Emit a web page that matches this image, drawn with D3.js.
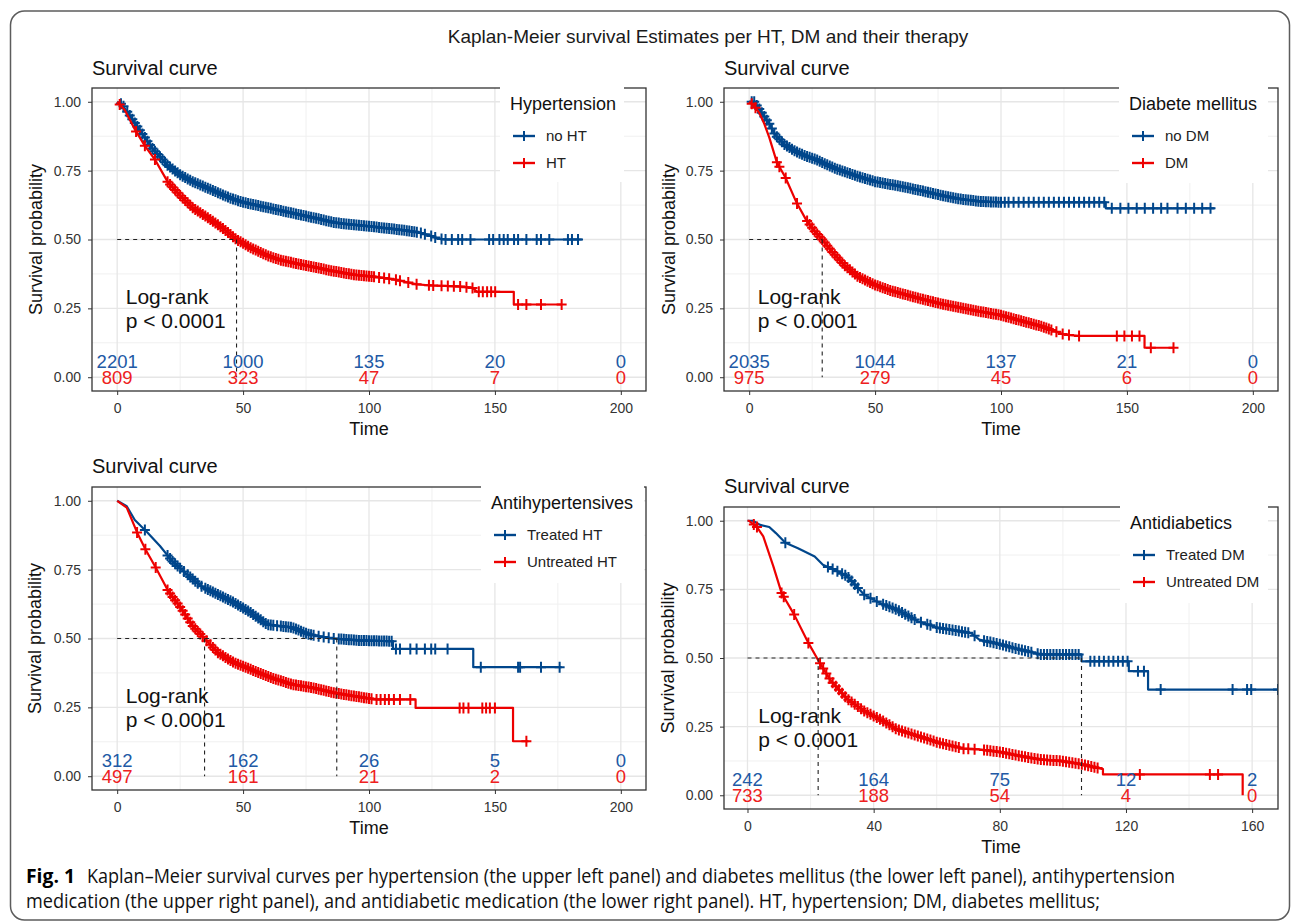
<!DOCTYPE html>
<html>
<head>
<meta charset="utf-8">
<script src="https://cdn.jsdelivr.net/npm/d3@7/dist/d3.min.js"></script>
<style>
body { margin: 0; background: #fff; }
svg text { font-family: "Liberation Sans", Arial, sans-serif; }
svg text.caption { font-family: "Open Sans", "Noto Sans", sans-serif; }
</style>
</head>
<body>
<div id="chart"></div>
<script>
// ---- titles and labels
var mainTitle = "Kaplan-Meier survival Estimates per HT, DM and their therapy";
var captionBold = "Fig. 1";
var captionLine1 = "Kaplan\u2013Meier survival curves per hypertension (the upper left panel) and diabetes mellitus (the lower left panel), antihypertension";
var captionLine2 = "medication (the upper right panel), and antidiabetic medication (the lower right panel). HT, hypertension; DM, diabetes mellitus;";

var yTicks = [0, 0.25, 0.5, 0.75, 1];
var xTicksWide = [0, 50, 100, 150, 200];
var xTicksShort = [0, 40, 80, 120, 160];

// ---- panel 1: hypertension
var htGroups = ["no HT", "HT"];
var htNoCurve = [[0,1],[2,0.99],[5,0.95],[8,0.91],[11,0.87],[14,0.83],[17,0.8],[20,0.77],[25,0.735],[30,0.71],[35,0.69],[40,0.67],[45,0.65],[50,0.635],[55,0.625],[60,0.615],[65,0.605],[70,0.595],[75,0.585],[80,0.575],[86,0.562],[92,0.555],[100,0.548],[108,0.54],[115,0.532],[120,0.525],[124,0.515],[127,0.505],[130,0.5],[184.5,0.5]];
var htYesCurve = [[0,1],[3,0.97],[7,0.9],[11,0.84],[15,0.79],[20,0.71],[25,0.66],[30,0.615],[36.7,0.575],[42,0.54],[47.4,0.5],[53,0.47],[60,0.44],[65,0.425],[70,0.415],[78,0.4],[86,0.385],[94,0.372],[102,0.365],[110,0.355],[119,0.337],[125,0.333],[135,0.33],[141,0.325],[143,0.31],[157.5,0.31],[157.5,0.264],[176.5,0.264]];
var htNoCensor = [1.5,2.5,4,5,6,7,8,9,10,11,12,13,14,15,16,17,18,19,20,21,22,23,24,25,26,27,28,29,30,31,32,33,34,35,36,37,38,39,40,41,42,43,44,45,46,47,48,49,50,51,52,53,54,55,56,57,58,59,60,61,62,63,64,65,66,67,68,69,70,71,72,73,74,75,76,77,78,79,80,81,82,83,84,85,86,87,88,89,90,91,92,93,94,95,96,97,98,99,100,101,102,103,104,105,106,107,108,109,110,111,112,113,114,115,116,117,118,119,120.6,122.2,124.7,126.3,128.8,130.4,132.9,135.4,137,140.3,147.7,149.3,151.8,153.5,155.1,157.6,159.2,162.5,166.6,168.3,171.6,179,180.6,183];
var htYesCensor = [1,7.5,11,15,20,21,22,23,24,25,26,27,28,29,30,31,32,33,34,35,36,37,38,39,40,41,42,43,44,45,46,47,48,49,50,51,52,53,54,55,56,57,58,59,60,61,62,63,64,65,66,67,68,69,70,71,72,73,74,75,76,77,78,79,80,81,82,83,84,85,86,87,88,89,90,91,92,93,94,95,96,97,98,99,100,101,102,104,106,108,110.7,112.3,115.6,118.9,123.8,125.5,128.8,131.3,133.7,136.2,138.7,141.1,143.6,145.2,146.9,148.5,150.1,159.2,162.5,168.3,176.5];
var htNoRisk = [2201, 1000, 135, 20, 0];
var htYesRisk = [809, 323, 47, 7, 0];
var htMedians = [47.4];

// ---- panel 2: diabetes mellitus
var dmGroups = ["no DM", "DM"];
var dmNoCurve = [[0,1],[2,1],[5,0.96],[8,0.92],[10.3,0.88],[14,0.845],[18.4,0.82],[22,0.805],[26.6,0.79],[30,0.775],[35,0.755],[43,0.73],[50,0.71],[59,0.695],[67,0.68],[75.5,0.662],[83.7,0.647],[92,0.638],[100,0.635],[141.6,0.635],[141.6,0.613],[184.8,0.613]];
var dmYesCurve = [[0,1],[2,0.985],[4,0.96],[6,0.92],[8,0.87],[11,0.78],[14.4,0.725],[18.8,0.634],[22.5,0.573],[26,0.53],[29,0.5],[33,0.455],[38,0.405],[43,0.367],[50,0.335],[56,0.315],[62,0.3],[68,0.285],[75.5,0.268],[85,0.25],[92,0.238],[100,0.225],[108,0.205],[116,0.185],[122,0.165],[125,0.155],[131,0.15],[157,0.15],[157,0.107],[168.5,0.107]];
var dmNoCensor = [1,2,3,4,5,6,7,8,9,10,11,12,13,14,15,16,17,18,19,20,21,22,23,24,25,26,27,28,29,30,31,32,33,34,35,36,37,38,39,40,41,42,43,44,45,46,47,48,49,50,51,52,53,54,55,56,57,58,59,60,61,62,63,64,65,66,67,68,69,70,71,72,73,74,75,76,77,78,79,80,81,82,83,84,85,86,87,88,89,90,91,92,93,94,95,96,97,98,99,100,101.5,103,105,107,109,111,113,115,117,119,121,123,125,127,129,131,133,135,137,139,141,144,147.4,150.6,153.9,157.1,160.4,163.6,166.1,170.1,173.4,176.7,179.9,183.2];
var dmYesCensor = [1,2.5,11,12,14.5,19,23,24,25,26,27,28,29,30,31,32,33,34,35,36,37,38,39,40,41,42,43,44,45,46,47,48,49,50,51,52,53,54,55,56,57,58,59,60,61,62,63,64,65,66,67,68,69,70,71,72,73,74,75,76,77,78,79,80,81,82,83,84,85,86,87,88,89,90,91,92,93,94,95,96,97,98,99,100,101,102,103,104,105,106,107,108,109,110,111,112,113,114,115,116,117,118,119,120,122,124.5,127,131,146,149,152,155,159.5,168.5];
var dmNoRisk = [2035, 1044, 137, 21, 0];
var dmYesRisk = [975, 279, 45, 6, 0];
var dmMedians = [29];

// ---- panel 3: antihypertensives
var ahGroups = ["Treated HT", "Untreated HT"];
var ahTreatedCurve = [[0,1],[3.8,0.98],[7,0.93],[12,0.885],[17,0.836],[21.9,0.78],[28.5,0.727],[33.4,0.69],[40,0.66],[46.5,0.63],[53,0.594],[59.7,0.55],[65,0.545],[69.6,0.54],[76,0.515],[82,0.505],[86,0.5],[96,0.493],[109.5,0.49],[109.5,0.462],[141.4,0.462],[141.4,0.396],[176.5,0.396]];
var ahUntreatedCurve = [[0,1],[3.8,0.975],[7.9,0.885],[11.2,0.824],[15.3,0.758],[20.2,0.673],[25.2,0.612],[30,0.545],[34.7,0.5],[40,0.448],[46.5,0.412],[53,0.388],[61,0.358],[69.6,0.333],[77.8,0.321],[86,0.303],[94,0.291],[102.5,0.279],[118.5,0.279],[118.5,0.248],[157.2,0.248],[157.2,0.127],[163.3,0.127]];
var ahTreatedCensor = [11,20,21,22,23,24,25,26.5,28,29,30,31,32,33.5,35,36,37,38,39,40,41,42,43,44,45,46,47,48,49,50,51,52,53,54,55,56,57,58,59,60,61,62,63.5,65,66,67,68,69,70,71,72,73,74,75,76,77,78,80,82,84,86,88,89,90,91,92,93,94,95,96,97,98,99,100,101,102,103,104,105,106,107,108,109,110.7,112.3,116.4,118.9,122.2,124.7,126.3,131.2,144.4,159.2,160,168.3,175.7];
var ahUntreatedCensor = [7.9,11.2,15.3,20,21,22,23,24,25,26,27,28,29,30,31,32,33,34,35.5,37,38,39,40,41,42,43,44,45,46,47,48,49,50,51,52,53,54,55,56,57,58,59,60,61,62,63,64,65,66,67,68,69,70,71,72,73,74,75,76,77,78,79,80,81,82,83,84,85,86,87,88,89,90,91,92,93,94,95,96,97,98,99,100,101,103,104.6,106.3,107.9,109.9,112.3,116.4,136,137.5,139.5,145,146.5,148,150,162.5];
var ahTreatedRisk = [312, 162, 26, 5, 0];
var ahUntreatedRisk = [497, 161, 21, 2, 0];
var ahMedians = [34.7, 87.2];

// ---- panel 4: antidiabetics
var adGroups = ["Treated DM", "Untreated DM"];
var adTreatedCurve = [[0,1],[1.7,1],[4,0.985],[6.9,0.977],[9,0.955],[12,0.92],[16,0.9],[21.3,0.87],[23.9,0.84],[27.8,0.82],[31.7,0.797],[37,0.73],[42,0.7],[47.4,0.676],[54,0.634],[60.4,0.61],[66,0.6],[71,0.59],[73.5,0.567],[80,0.55],[86.5,0.53],[93,0.513],[105.9,0.513],[105.9,0.488],[120.9,0.488],[120.9,0.452],[127,0.452],[127,0.385],[168.2,0.385]];
var adUntreatedCurve = [[0,1],[0.4,1],[3,0.977],[5,0.943],[8.2,0.834],[10.8,0.737],[14.8,0.658],[19.3,0.555],[22.6,0.488],[26.5,0.416],[31.7,0.35],[37,0.307],[42,0.277],[47.4,0.24],[54,0.216],[60.4,0.192],[68.3,0.17],[73.5,0.167],[80,0.158],[86.5,0.143],[93,0.13],[99.6,0.125],[106,0.113],[112.7,0.095],[112.7,0.076],[157,0.076],[157,0]];
var adTreatedCensor = [12,25.5,27,28.5,30,31,32,33,34,35,37,39,41,43,44,45,46,47,48,49,50,51,52,53,55,57,58,60,61,62,63,64,65,66,67,68,69,70,72,75,76,77,78,79,80,81,82,83,84,85,86,87,88,89,90,92,93,94,95,96,97,98,99,100,101,102,103,104,105,108.7,110,111.5,113,114.5,116,117.5,119,120.5,123.8,125.7,131,153.8,158.4,159.7,168.2];
var adUntreatedCensor = [2,3,10.8,11.5,14.8,19.3,23,24,25,26,27,28,29,30,31,32,33,34,35,36,37,38,39,40,41,42,43,44,45,46,47,48,49,50,51,52,53,54,55,56,57,58,59,60,61,62,63,64,65,66,67,68.5,70,72,75,76,77,78,79,80,81,82,83,84,85,86,87,88,89,90,91,92,93,94,95,96,97,98,99,100,101,102,103,104,105,106,107,108,109,110,111,124.4,146.6,149.2];
var adTreatedRisk = [242, 164, 75, 12, 2];
var adUntreatedRisk = [733, 188, 54, 4, 0];
var adMedians = [22.4, 105.9];

// ---- layout
var chart_width = 1295;
var chart_height = 923;
var blue = "#00468B", red = "#ED0000";
var blueText = "#2159A5", redText = "#EE2020";

var panels = [
    { left: 92, right: 646, top: 88, bottom: 391, xDomain: [-10, 210], xTicks: xTicksWide,
      titleY: 75, ylabX: 42, legendTitle: "Hypertension", legend: [500, 86, 124, 96],
      groups: htGroups, curves: [htNoCurve, htYesCurve], censors: [htNoCensor, htYesCensor],
      risks: [htNoRisk, htYesRisk], medians: htMedians },
    { left: 724, right: 1278, top: 88, bottom: 391, xDomain: [-10, 210], xTicks: xTicksWide,
      titleY: 75, ylabX: 675, legendTitle: "Diabete mellitus", legend: [1119, 86, 149, 97],
      groups: dmGroups, curves: [dmNoCurve, dmYesCurve], censors: [dmNoCensor, dmYesCensor],
      risks: [dmNoRisk, dmYesRisk], medians: dmMedians },
    { left: 92, right: 646, top: 487, bottom: 790, xDomain: [-10, 210], xTicks: xTicksWide,
      titleY: 473, ylabX: 41, legendTitle: "Antihypertensives", legend: [481, 485, 163, 98],
      groups: ahGroups, curves: [ahTreatedCurve, ahUntreatedCurve], censors: [ahTreatedCensor, ahUntreatedCensor],
      risks: [ahTreatedRisk, ahUntreatedRisk], medians: ahMedians },
    { left: 724, right: 1278, top: 507, bottom: 809, xDomain: [-7.45, 168.2], xTicks: xTicksShort,
      titleY: 493, ylabX: 674, legendTitle: "Antidiabetics", legend: [1120, 505, 148, 98],
      groups: adGroups, curves: [adTreatedCurve, adUntreatedCurve], censors: [adTreatedCensor, adUntreatedCensor],
      risks: [adTreatedRisk, adUntreatedRisk], medians: adMedians }
];

//Create SVG Element
var svg = d3.select("#chart")
    .append("svg")
    .attr("width", chart_width)
    .attr("height", chart_height);

// outer frame
svg.append("rect")
    .attr("x", 10.5).attr("y", 11)
    .attr("width", 1279).attr("height", 909)
    .attr("rx", 14)
    .attr("fill", "none")
    .attr("stroke", "#5c5c5c")
    .attr("stroke-width", 1.5);

svg.append("text")
    .attr("x", 708).attr("y", 43)
    .attr("text-anchor", "middle")
    .attr("font-size", 19)
    .attr("fill", "#1a1a1a")
    .text(mainTitle);

// survival value at time t along a drawn curve
function survAt(curve, t) {
    var i = d3.bisector(function(d){ return d[0]; }).right(curve, t) - 1;
    if (i < 0) return curve[0][1];
    if (i >= curve.length - 1) return curve[curve.length - 1][1];
    var a = curve[i], b = curve[i + 1];
    if (b[0] === a[0]) return b[1];
    return a[1] + (b[1] - a[1]) * (t - a[0]) / (b[0] - a[0]);
}

var cross = "M-5,0H5M0,-5.5V5.5";

panels.forEach(function(p, pi){
    var x_scale = d3.scaleLinear().domain(p.xDomain).range([p.left, p.right]);
    var y_scale = d3.scaleLinear().domain([-0.05, 1.05]).range([p.bottom, p.top]);
    var colors = [blue, red];
    var g = svg.append("g");

    g.append("clipPath").attr("id", "clip" + pi)
        .append("rect")
        .attr("x", p.left).attr("y", p.top)
        .attr("width", p.right - p.left).attr("height", p.bottom - p.top);

    // grid (minor then major)
    var step = p.xTicks[1] - p.xTicks[0];
    var xMinor = p.xTicks.slice(0, -1).map(function(d){ return d + step / 2; });
    var yMinor = [0.125, 0.375, 0.625, 0.875];
    g.selectAll(".vminor").data(xMinor).enter().append("line")
        .attr("x1", function(d){ return x_scale(d); }).attr("x2", function(d){ return x_scale(d); })
        .attr("y1", p.top).attr("y2", p.bottom)
        .attr("stroke", "#f0f0f0").attr("stroke-width", 1);
    g.selectAll(".hminor").data(yMinor).enter().append("line")
        .attr("x1", p.left).attr("x2", p.right)
        .attr("y1", function(d){ return y_scale(d); }).attr("y2", function(d){ return y_scale(d); })
        .attr("stroke", "#f0f0f0").attr("stroke-width", 1);
    g.selectAll(".vmajor").data(p.xTicks).enter().append("line")
        .attr("x1", function(d){ return x_scale(d); }).attr("x2", function(d){ return x_scale(d); })
        .attr("y1", p.top).attr("y2", p.bottom)
        .attr("stroke", "#e6e6e6").attr("stroke-width", 1.3);
    g.selectAll(".hmajor").data(yTicks).enter().append("line")
        .attr("x1", p.left).attr("x2", p.right)
        .attr("y1", function(d){ return y_scale(d); }).attr("y2", function(d){ return y_scale(d); })
        .attr("stroke", "#e6e6e6").attr("stroke-width", 1.3);

    // curves and censor marks
    var plot = g.append("g").attr("clip-path", "url(#clip" + pi + ")");
    var line = d3.line()
        .x(function(d){ return x_scale(d[0]); })
        .y(function(d){ return y_scale(d[1]); });
    p.curves.forEach(function(c, ci){
        plot.append("path")
            .attr("d", line(c))
            .attr("fill", "none")
            .attr("stroke", colors[ci])
            .attr("stroke-width", 2.2)
            .attr("stroke-linejoin", "round");
        plot.selectAll(".cens" + ci)
            .data(p.censors[ci])
            .enter()
            .append("path")
            .attr("d", cross)
            .attr("transform", function(t){
                return "translate(" + x_scale(t) + "," + y_scale(survAt(c, t)) + ")";
            })
            .attr("fill", "none")
            .attr("stroke", colors[ci])
            .attr("stroke-width", 2);
    });

    // median survival dashed lines
    var dash = "4,4";
    plot.append("line")
        .attr("x1", x_scale(0)).attr("x2", x_scale(d3.max(p.medians)))
        .attr("y1", y_scale(0.5)).attr("y2", y_scale(0.5))
        .attr("stroke", "#222").attr("stroke-width", 1.1).attr("stroke-dasharray", dash);
    plot.selectAll(".med").data(p.medians).enter().append("line")
        .attr("x1", function(d){ return x_scale(d); }).attr("x2", function(d){ return x_scale(d); })
        .attr("y1", y_scale(0.5)).attr("y2", y_scale(0))
        .attr("stroke", "#222").attr("stroke-width", 1.1).attr("stroke-dasharray", dash);

    // numbers at risk
    p.risks.forEach(function(r, ri){
        g.selectAll(".risk" + ri).data(r).enter().append("text")
            .attr("x", function(d, i){ return x_scale(p.xTicks[i]); })
            .attr("y", y_scale(0) - (ri === 0 ? 16 : 0))
            .attr("dy", "0.36em")
            .attr("text-anchor", "middle")
            .attr("font-size", 18.5)
            .attr("fill", ri === 0 ? blueText : redText)
            .text(function(d){ return d; });
    });

    // log-rank annotation
    g.append("text")
        .attr("x", x_scale(3.4)).attr("y", y_scale(0.265))
        .attr("font-size", 21).attr("fill", "#111")
        .text("Log-rank");
    g.append("text")
        .attr("x", x_scale(3.4)).attr("y", y_scale(0.265) + 24)
        .attr("font-size", 21).attr("fill", "#111")
        .text("p < 0.0001");

    // axes
    var yAxis = d3.axisLeft(y_scale).tickValues(yTicks).tickFormat(d3.format(".2f")).tickSize(4).tickPadding(7);
    var xAxis = d3.axisBottom(x_scale).tickValues(p.xTicks).tickSize(4).tickPadding(8);
    var ya = g.append("g").attr("transform", "translate(" + p.left + ",0)").call(yAxis);
    var xa = g.append("g").attr("transform", "translate(0," + p.bottom + ")").call(xAxis);
    [ya, xa].forEach(function(a){
        a.select(".domain").remove();
        a.selectAll("line").attr("stroke", "#333");
        a.selectAll("text").attr("font-size", 14).attr("fill", "#333");
    });

    // panel border
    g.append("rect")
        .attr("x", p.left).attr("y", p.top)
        .attr("width", p.right - p.left).attr("height", p.bottom - p.top)
        .attr("fill", "none").attr("stroke", "#333").attr("stroke-width", 1.3);

    // titles
    g.append("text").attr("x", p.left).attr("y", p.titleY)
        .attr("font-size", 20).attr("fill", "#111").text("Survival curve");
    g.append("text")
        .attr("x", (p.left + p.right) / 2).attr("y", p.bottom + 44)
        .attr("text-anchor", "middle").attr("font-size", 18).attr("fill", "#111").text("Time");
    g.append("text")
        .attr("transform", "translate(" + p.ylabX + "," + (y_scale(0) + y_scale(1)) / 2 + ") rotate(-90)")
        .attr("text-anchor", "middle").attr("font-size", 18).attr("fill", "#111").text("Survival probability");

    // legend
    var L = p.legend;
    var lg = g.append("g");
    lg.append("rect").attr("x", L[0]).attr("y", L[1]).attr("width", L[2]).attr("height", L[3]).attr("fill", "#fff");
    var lx = L[0] + 10;
    lg.append("text").attr("x", lx).attr("y", L[1] + 24)
        .attr("font-size", 18).attr("fill", "#111").text(p.legendTitle);
    p.groups.forEach(function(name, gi){
        var ly = L[1] + 50 + gi * 27;
        lg.append("line").attr("x1", lx + 3).attr("x2", lx + 25).attr("y1", ly).attr("y2", ly)
            .attr("stroke", colors[gi]).attr("stroke-width", 2.4);
        lg.append("path").attr("d", "M-5,0H5M0,-5V5").attr("transform", "translate(" + (lx + 14) + "," + ly + ")")
            .attr("stroke", colors[gi]).attr("stroke-width", 2).attr("fill", "none");
        lg.append("text").attr("x", lx + 36).attr("y", ly).attr("dy", "0.36em")
            .attr("font-size", 15).attr("fill", "#222").text(name);
    });
});

// caption
svg.append("text")
    .attr("class", "caption")
    .attr("x", 26).attr("y", 883)
    .attr("font-weight", "bold").attr("font-size", 20)
    .attr("textLength", 49).attr("lengthAdjust", "spacingAndGlyphs")
    .text(captionBold);
svg.append("text")
    .attr("class", "caption")
    .attr("x", 87).attr("y", 883)
    .attr("font-size", 20).attr("fill", "#111")
    .attr("textLength", 1088).attr("lengthAdjust", "spacingAndGlyphs")
    .text(captionLine1);
svg.append("text")
    .attr("class", "caption")
    .attr("x", 26).attr("y", 908)
    .attr("font-size", 20).attr("fill", "#111")
    .attr("textLength", 1074).attr("lengthAdjust", "spacingAndGlyphs")
    .text(captionLine2);
</script>
</body>
</html>
